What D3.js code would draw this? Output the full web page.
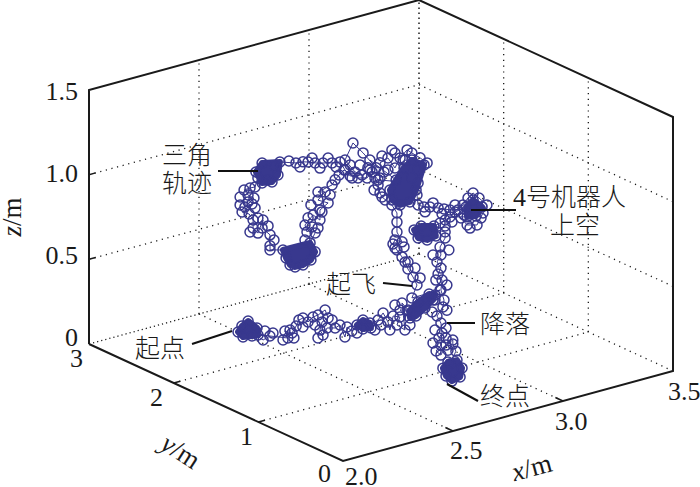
<!DOCTYPE html>
<html lang="zh"><head><meta charset="utf-8">
<script src="https://cdn.jsdelivr.net/npm/d3@7"></script>
<style>html,body{margin:0;background:#fff}svg{display:block}</style></head>
<body><svg id="c" width="700" height="487"></svg>
<script>
// Trajectory (depth is estimated per phase)
const floorX=[2.500,2.483,2.515,2.538,2.579,2.597,2.548,2.522,2.566,2.605,2.640,2.648,2.703,2.748,2.772,2.762,2.807,2.834,2.885,2.844,2.802,2.746,2.724,2.779,2.802,2.834,2.774,2.842,2.831,2.883,2.931,2.932,2.904,2.875,2.974,3.032,2.990,2.946,3.042,3.055,2.997,2.989,3.148,3.122,3.099,3.078,3.107,3.182,3.255,3.292,3.281,3.200,3.118,3.337];
const floorY=[2.539,2.436,2.413,2.402,2.520,2.672,2.618,2.300,2.334,2.223,2.349,2.285,2.380,2.464,2.479,2.393,2.451,2.461,2.511,2.369,2.331,2.211,2.117,2.212,2.177,2.203,1.988,2.140,2.054,2.129,2.183,2.103,2.019,2.038,2.117,2.208,2.041,1.904,2.115,2.069,1.953,1.838,2.286,2.147,2.182,2.009,2.014,2.104,2.198,2.269,2.312,2.232,2.126,2.328];
const floorZ=0;
const flightX=[3.006,3.029,3.011,2.988,2.975,2.961,2.938,2.920,2.929,2.961,2.938,2.938,2.938,2.915,2.870,2.861,2.852,2.861,2.879,2.861,2.897,2.929,2.952,2.984,3.006,3.043,3.075,3.034,2.975,
2.906,2.915,2.952,2.997,3.025,3.006,3.061,3.006,2.970,2.934,
2.815,2.843,2.784,2.738,2.702,2.747,2.779,2.725,2.702,2.679,2.643,2.602,2.566,2.534,2.511,2.479,2.406,2.383,2.397,2.370,2.352,2.325,2.297,2.325,2.293,2.270,2.243,2.261,2.288,2.247,2.279,2.234,2.266,2.284,2.284,2.306,2.329,2.325,2.361,2.361,2.361,2.420,2.434,2.452,2.475,2.511,2.547,2.566,2.543,2.566,2.552,2.529,2.520,2.557,2.588,2.588,2.625,2.579,2.611,2.579,2.643,2.657,2.675,2.697,2.761,2.802,2.825,2.852,3.034,3.029,3.034,3.061,3.088,3.125,3.152,3.179,3.215,3.238,3.261,3.284,3.311,3.347,3.329,3.302,3.257,3.229,3.202,
3.252,3.284,3.325,3.297,3.257,
3.179,3.157,3.134,3.106,3.115,3.075,3.034,3.016,3.048];
const flightZ=[0.192,0.260,0.314,0.369,0.415,0.450,0.499,0.541,0.562,0.539,0.605,0.664,0.718,0.773,0.836,0.863,0.914,0.952,0.981,1.041,1.057,0.987,1.038,1.074,1.048,1.006,0.965,0.938,1.018,
0.865,0.803,0.760,0.762,0.823,0.901,0.958,1.007,0.972,0.914,
1.074,1.018,1.127,1.202,1.114,1.028,0.999,1.012,1.055,1.111,1.118,1.132,1.145,1.162,1.171,1.176,1.207,1.192,1.134,1.102,1.120,1.112,1.187,1.230,1.100,1.102,1.100,1.064,1.036,0.998,1.005,0.973,0.950,0.908,0.861,0.823,0.892,0.846,0.793,0.728,0.704,0.683,0.631,0.583,0.563,0.562,0.579,0.620,0.681,0.732,0.772,0.751,0.795,0.841,0.800,0.859,0.888,0.921,0.958,0.969,0.988,1.013,1.035,1.057,0.987,0.973,1.000,0.943,0.861,0.792,0.731,0.710,0.700,0.681,0.666,0.650,0.637,0.659,0.692,0.713,0.674,0.620,0.579,0.518,0.534,0.585,0.630,
0.642,0.672,0.617,0.573,0.582,
0.609,0.599,0.589,0.581,0.519,0.510,0.536,0.590,0.602];
const flightY=1.8;
const descentX=[2.849,2.849,2.826,2.830,2.812,2.830,2.817,2.835,2.830,2.844,2.839,2.812,2.830,2.835,2.821,2.830,2.808,2.830,2.853,2.884,2.884,2.898];
const descentZ=[0.821,0.786,0.741,0.692,0.657,0.615,0.584,0.542,0.485,0.421,0.382,0.338,0.290,0.229,0.205,0.160,0.133,0.101,0.152,0.171,0.147,0.100];
const descentY=1.0;
const landingX=[2.794,2.826,2.849,2.840,2.803,2.776,2.762,2.785];
const landingZ=[0.107,0.119,0.064,0.014,0.003,0.043,0.094,0.122];
const landingY=0.8;
// further samples where the path lingers, visible as rings beside the main track
const flightExtraX=[2.497,2.552,2.588,2.625,2.661,2.447,2.306,2.225,2.261,2.293,2.225,2.306,2.352,2.270,2.379,2.534,2.597,2.579,2.547,2.634,2.520,2.815,2.897,2.870,2.929,2.966,2.838,2.834,2.884,2.915,2.725,2.770,2.806,2.734,3.066,3.102,3.143,3.202,3.243,3.270,3.320,3.157,3.188,2.929,2.970,2.988,3.020,3.043];
const flightExtraZ=[1.146,1.179,1.107,1.153,1.088,1.199,1.148,1.065,1.023,0.976,1.018,0.912,0.849,0.842,0.756,0.832,0.845,0.756,0.904,0.932,0.706,1.015,0.986,1.078,1.075,1.021,0.960,0.891,0.814,1.098,1.077,1.061,1.031,0.997,0.679,0.719,0.639,0.672,0.598,0.511,0.553,0.563,0.576,0.514,0.506,0.410,0.364,0.297];
const floorExtraX=[2.579,2.622,2.661,2.716,2.763,2.843,2.691,2.833,2.903,2.951,3.034,3.115,3.178,2.593,2.583];
const floorExtraY=[2.213,2.196,2.343,2.334,2.313,2.319,2.091,2.000,1.969,2.023,1.896,2.284,2.009,2.368,2.437];
const descentExtraX=[2.866,2.794,2.807,2.857,2.803,2.857,2.853,2.803,2.853,2.794,2.862];
const descentExtraZ=[0.709,0.705,0.552,0.505,0.436,0.357,0.253,0.259,0.194,0.185,0.119];
// index ranges of samples that overlap into solid clumps
const floorClumps=[[0,6],[29,33],[45,52]];
const flightClumps=[[29,38],[55,62],[80,87],[126,130],[134,139]];

const xTicks=[2.0,2.5,3.0,3.5], yTicks=[0,1,2,3], zTicks=[0,0.5,1.0,1.5];
const xInner=[2.5,3.0], yInner=[1,2], zInner=[0.5,1.0];
const xLabelPos=[[345,485],[450,459],[555,430],[668,400]];
const yLabelPos=[[318,482],[240,445],[150,406],[70,367]];
const zLabelPos=[[78,346],[78,264],[78,182],[78,100]];
const notes=[
 {lines:[["三角",162,164],["轨迹",162,192]],lead:[[218,171],[258,171]]},
 {lines:[["起点",135,357]],lead:[[192,344],[232,331]]},
 {lines:[["起飞",326,293]],lead:[[383,283],[412,286]]},
 {lines:[["降落",480,333]],lead:[[447,323],[475,323]]},
 {lines:[["终点",480,405]],lead:[[447,384],[478,401]]},
 {lines:[["号机器人",526,206],["上空",550,234]],lead:[[471,210],[516,210]]}
];

const ink="#1a1a1a", blue="#38388e";
const cjk='"Noto Sans CJK SC","Noto Sans",sans-serif', latin='"Liberation Serif",serif';
const svg=d3.select("#c");
const xh=d3.scaleLinear().domain([2,3.5]).range([0,330]), xv=d3.scaleLinear().domain([2,3.5]).range([0,-90]);
const yh=d3.scaleLinear().domain([0,3]).range([0,-254]), yv=d3.scaleLinear().domain([0,3]).range([0,-117]);
const zv=d3.scaleLinear().domain([0,1.5]).range([0,-254]);
const P=(x,y,z)=>[343+xh(x)+yh(y),461+xv(x)+yv(y)+zv(z)];
const line=d3.line();

function seg(a,b,col,w,dash){svg.append("path").attr("d",line([a,b])).attr("fill","none").attr("stroke",col).attr("stroke-width",w).attr("stroke-dasharray",dash||null);}
const gw=1.3, gd="1.2 4.6";
// dotted grid
xInner.forEach(x=>{seg(P(x,3,0),P(x,3,1.5),ink,gw,gd);seg(P(x,0,0),P(x,3,0),ink,gw,gd);});
yInner.forEach(y=>{seg(P(3.5,y,0),P(3.5,y,1.5),ink,gw,gd);seg(P(2,y,0),P(3.5,y,0),ink,gw,gd);});
zInner.forEach(z=>{seg(P(2,3,z),P(3.5,3,z),ink,gw,gd);seg(P(3.5,3,z),P(3.5,0,z),ink,gw,gd);});
seg(P(2,3,0),P(3.5,3,0),ink,gw,"1.2 3");seg(P(3.5,3,0),P(3.5,0,0),ink,gw,gd);seg(P(3.5,3,0),P(3.5,3,1.5),ink,1.5,"1.5 3.5");
// frame
svg.append("path").attr("d",line([P(2,3,0),P(2,3,1.5),P(3.5,3,1.5),P(3.5,0,1.5),P(3.5,0,0),P(2,0,0),P(2,3,0)])).attr("fill","none").attr("stroke",ink).attr("stroke-width",2).attr("stroke-linejoin","miter");
// ticks
xInner.forEach(x=>seg(P(x,0,0),P(x,0.09,0),ink,1.5));
yInner.forEach(y=>seg(P(2,y,0),P(2.03,y,0),ink,1.5));
zInner.forEach(z=>seg(P(2,3,z),P(2.03,3,z),ink,1.5));

// trajectory
const floorPts=floorX.map((x,i)=>P(x,floorY[i],floorZ));
const flightPts=flightX.map((x,i)=>P(x,flightY,flightZ[i]));
const descentPts=descentX.map((x,i)=>P(x,descentY,descentZ[i]));
const landingPts=landingX.map((x,i)=>P(x,landingY,landingZ[i]));
const clumps=[...floorClumps.map(([a,b])=>floorPts.slice(a,b+1)),...flightClumps.map(([a,b])=>flightPts.slice(a,b+1)),landingPts];
const pts=[...floorPts,...flightPts,...descentPts,...landingPts];
const extras=[...flightExtraX.map((x,i)=>P(x,flightY,flightExtraZ[i])),...floorExtraX.map((x,i)=>P(x,floorExtraY[i],floorZ)),...descentExtraX.map((x,i)=>P(x,descentY,descentExtraZ[i]))];

svg.append("path").attr("d",line(pts)).attr("fill","none").attr("stroke",blue).attr("stroke-width",1);
svg.append("g").selectAll("path").data(clumps).join("path")
 .attr("d",c=>line(d3.polygonHull(c))+"Z").attr("fill",blue).attr("stroke",blue).attr("stroke-width",6).attr("stroke-linejoin","round");
svg.append("g").selectAll("circle").data([...pts,...extras]).join("circle")
 .attr("cx",d=>d[0]).attr("cy",d=>d[1]).attr("r",5).attr("fill","none").attr("stroke",blue).attr("stroke-width",1.5);

// tick labels
function label(t,p,anchor){svg.append("text").attr("x",p[0]).attr("y",p[1]).attr("text-anchor",anchor||"start").attr("font-family",latin).attr("font-size",26).attr("fill",ink).text(t);}
xTicks.forEach((t,i)=>label(t.toFixed(1),xLabelPos[i]));
yTicks.forEach((t,i)=>label(String(t),yLabelPos[i]));
zTicks.forEach((t,i)=>label(t===0?"0":t.toFixed(1),zLabelPos[i],"end"));

// axis titles
function title(v,cx,cy,rot){const t=svg.append("text").attr("transform",`translate(${cx},${cy}) rotate(${rot})`).attr("text-anchor","middle").attr("font-family",latin).attr("font-size",27).attr("fill",ink);
 t.append("tspan").attr("font-style","italic").text(v);t.append("tspan").text("/m");}
title("z",21,217,-90);title("y",176,459,33);title("x",534,476,-15);

// annotations
notes.forEach(n=>{
 n.lines.forEach(l=>svg.append("text").attr("x",l[1]).attr("y",l[2]).attr("font-family",cjk).attr("font-weight",300).attr("font-size",25).attr("fill",ink).text(l[0]));
 seg(n.lead[0],n.lead[1],"#111",2);
});
svg.append("text").attr("x",513).attr("y",206).attr("font-family",latin).attr("font-size",26).attr("fill",ink).text("4");
</script></body></html>
